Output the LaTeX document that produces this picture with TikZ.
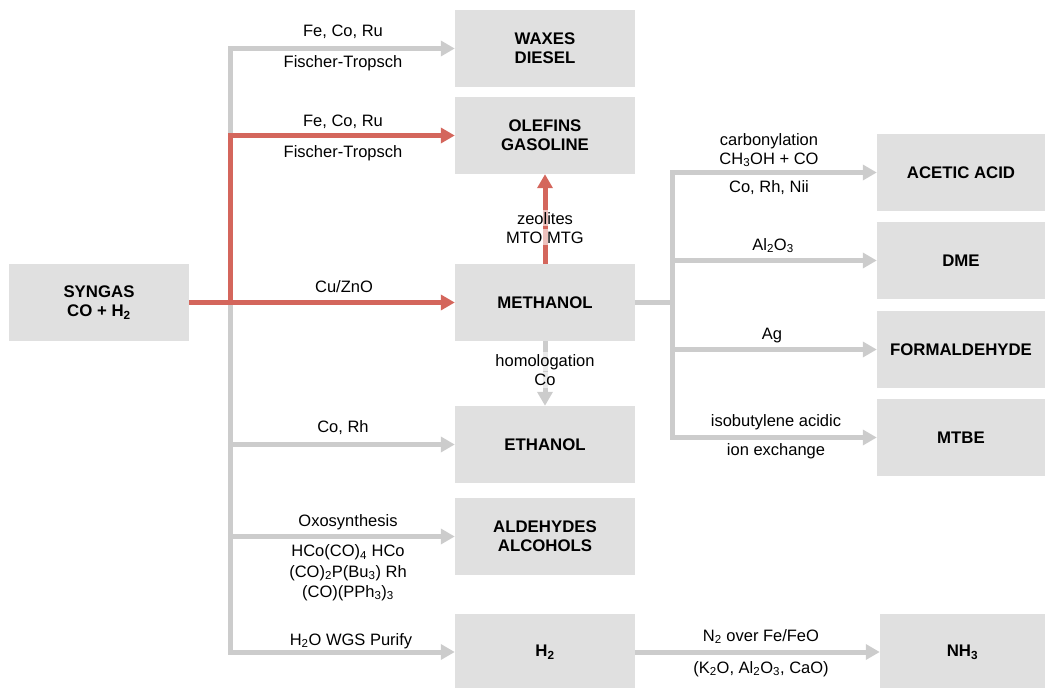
\documentclass[tikz,border=0pt]{standalone}
\usepackage{fontspec}
\setmainfont{Liberation Sans}
\usetikzlibrary{arrows.meta}
\definecolor{boxgray}{HTML}{E0E0E0}
\definecolor{linegray}{HTML}{CCCCCC}
\definecolor{linered}{HTML}{D4665C}
\tikzset{
  box/.style={fill=boxgray, minimum width=180pt, minimum height=77pt, align=center,
    font=\fontsize{16.8}{19}\selectfont\bfseries, inner sep=0pt},
  rbox/.style={box, minimum width=168pt},
  lbl/.style={font=\fontsize{16.5}{19}\selectfont, anchor=base, inner sep=0pt},
  veil/.style={fill=white, fill opacity=0.6, text opacity=1, inner ysep=2pt},
  gline/.style={draw=linegray, line width=5pt},
  rline/.style={draw=linered, line width=5pt},
  garrow/.style={gline, -{Triangle[length=14pt,width=15pt]}},
  rarrow/.style={rline, -{Triangle[length=14pt,width=15pt]}},
}
\begin{document}
\begin{tikzpicture}[x=1pt,y=-1pt]
\useasboundingbox (0,0) rectangle (1045,688);
% boxes
\node[box] (syngas) at (99,302.5) {SYNGAS\\CO + H\textsubscript{2}};
\node[box] (waxes) at (545,48.5) {WAXES\\DIESEL};
\node[box] (olefins) at (545,135.5) {OLEFINS\\GASOLINE};
\node[box] (methanol) at (545,302.5) {METHANOL};
\node[box] (ethanol) at (545,444.5) {ETHANOL};
\node[box] (aldehydes) at (545,536.5) {ALDEHYDES\\ALCOHOLS};
\node[box, minimum height=76pt] (h2) at (545,652) {H\textsubscript{2}};
\node[rbox] (acetic) at (961,172.5) {ACETIC ACID};
\node[rbox] (dme) at (961,260.5) {DME};
\node[rbox] (formal) at (961,349.5) {FORMALDEHYDE};
\node[rbox] (mtbe) at (961,437.5) {MTBE};
\node[rbox, minimum width=165pt, minimum height=76pt] (nh3) at (962.5,652) {NH\textsubscript{3}};
% junction coordinates
\coordinate (ltop) at (230,48.5);
\coordinate (lol) at (230,135.5);
\coordinate (lmid) at (230,302.5);
\coordinate (leth) at (230,444.5);
\coordinate (lald) at (230,536.5);
\coordinate (lbot) at (230,652);
\coordinate (rtop) at (672,172.5);
\coordinate (rdme) at (672,260.5);
\coordinate (rmid) at (672,302.5);
\coordinate (rfor) at (672,349.5);
\coordinate (rbot) at (672,437.5);
% gray connectors
\draw[gline, line cap=rect] (ltop) -- (lbot);
\draw[garrow] (ltop) -- (waxes.west);
\draw[garrow] (leth) -- (ethanol.west);
\draw[garrow] (lald) -- (aldehydes.west);
\draw[garrow] (lbot) -- (h2.west);
\draw[gline] (methanol.east) -- (rmid);
\draw[gline, line cap=rect] (rtop) -- (rbot);
\draw[garrow] (rtop) -- (acetic.west);
\draw[garrow] (rdme) -- (dme.west);
\draw[garrow] (rfor) -- (formal.west);
\draw[garrow] (rbot) -- (mtbe.west);
\draw[garrow] (h2.east) -- (nh3.west);
\draw[garrow] (methanol.south) -- (ethanol.north);
% red connectors
\draw[rarrow] (syngas.east) -- (methanol.west);
\draw[rarrow, line join=miter] (lmid) |- (olefins.west);
\draw[rarrow] (methanol.north) -- (olefins.south);
% labels left column
\node[lbl] (t1) at (343,36) {Fe, Co, Ru};
\node[lbl] (t2) at (343,67.5) {Fischer-Tropsch};
\node[lbl] (t3) at (343,126) {Fe, Co, Ru};
\node[lbl] (t4) at (343,157) {Fischer-Tropsch};
\node[lbl] (t5) at (344,292) {Cu/ZnO};
\node[lbl] (t6) at (343,432) {Co, Rh};
\node[lbl] (t7) at (348,526) {Oxosynthesis};
\node[lbl] (t8) at (348,556.5) {HCo(CO)\textsubscript{4} HCo};
\node[lbl] (t9) at (348,577) {(CO)\textsubscript{2}P(Bu\textsubscript{3}) Rh};
\node[lbl] (t10) at (348,597) {(CO)(PPh\textsubscript{3})\textsubscript{3}};
\node[lbl] (t11) at (351,645) {H\textsubscript{2}O WGS Purify};
% labels on vertical arrows
\node[lbl, veil] (t12) at (545,224.3) {zeolites};
\node[lbl, veil] (t13) at (545,243) {MTO MTG};
\node[lbl, veil] (t14) at (545,366) {homologation};
\node[lbl, veil] (t15) at (545,385.7) {Co};
% labels right column
\node[lbl] (t16) at (769,145) {carbonylation};
\node[lbl] (t17) at (769,164) {CH\textsubscript{3}OH + CO};
\node[lbl] (t18) at (769,192) {Co, Rh, Nii};
\node[lbl] (t19) at (773,250) {Al\textsubscript{2}O\textsubscript{3}};
\node[lbl] (t20) at (772,339) {Ag};
\node[lbl] (t21) at (776,426.7) {isobutylene acidic};
\node[lbl] (t22) at (776,455) {ion exchange};
\node[lbl] (t23) at (761,641) {N\textsubscript{2} over Fe/FeO};
\node[lbl] (t24) at (761,673) {(K\textsubscript{2}O, Al\textsubscript{2}O\textsubscript{3}, CaO)};
\end{tikzpicture}
\end{document}
